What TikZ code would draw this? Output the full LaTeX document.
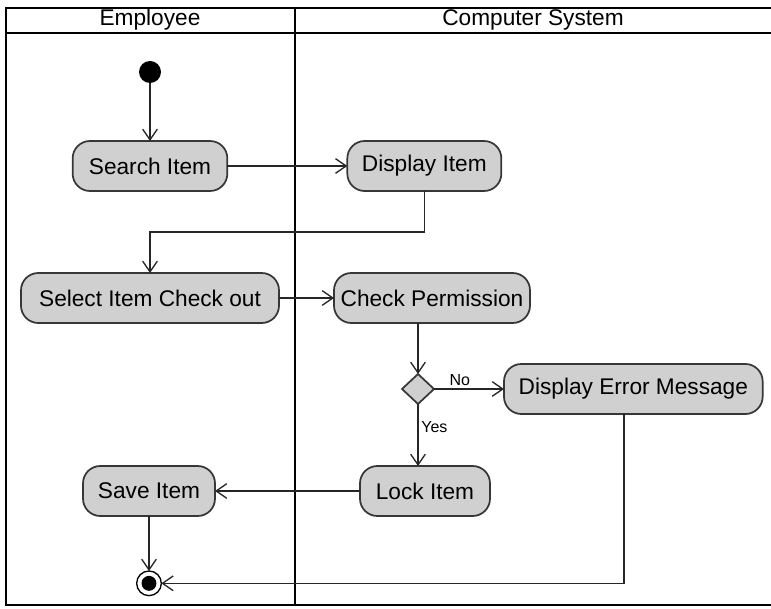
\documentclass[tikz,border=0pt]{standalone}
\usepackage{fontspec}
\setmainfont{Liberation Sans}
\usetikzlibrary{positioning, calc, shapes.geometric, arrows.meta}
\definecolor{actfill}{RGB}{208,208,208}
\definecolor{actline}{RGB}{55,55,55}

\begin{document}
\begin{tikzpicture}[
        x=0.75pt, y=-0.75pt,
        act/.style={rectangle, rounded corners=13pt, draw=actline, fill=actfill, line width=1.3pt, outer sep=0pt, minimum height=37.5pt, inner xsep=3pt, font=\fontsize{17}{20}\selectfont},
        decision/.style={diamond, draw=actline, fill=actfill, line width=1.3pt, outer sep=0pt, minimum width=24pt, minimum height=22.5pt, inner sep=0pt},
        initial/.style={circle, fill=black, outer sep=0pt, minimum size=16.5pt, inner sep=0pt},
        final/.style={circle, draw, line width=1pt, outer sep=0pt, minimum size=18.5pt, inner sep=0pt,
            path picture={\fill (path picture bounding box.center) circle (5.6pt);}},
        lane/.style={line width=1.7pt},
        title/.style={font=\fontsize{17}{20}\selectfont},
        arrow/.style={-{Straight Barb[length=8pt, width=11pt]}, line width=1pt, draw=black!85},
        guard/.style={font=\fontsize{12}{14}\selectfont, inner sep=2pt},
    ]
    \useasboundingbox (0,0) rectangle (771,609);

    % ===== Swimlanes =====
    \draw[lane] (771,8) -- (6,8) -- (6,605) -- (771,605);
    \draw[lane] (6,33) -- (771,33);
    \draw[lane] (295,8) -- (295,605);
    \node[title] (L1) at (150,20) {Employee};
    \node[title] (L2) at (533,20) {Computer System};

    % ===== Activities =====
    \node[initial] (start) at (150,72) {};
    \node[act, minimum width=116pt, below=43.5pt of start] (search) {Search Item};
    \node[act, minimum width=115.5pt, right=90pt of search] (display) {Display Item};
    \node[act, minimum width=193.5pt, below=61.5pt of search] (select) {Select Item Check out};
    \node[act, minimum width=147pt, right=41.25pt of select] (check) {Check Permission};
    \node[decision, below=38.25pt of check, xshift=-10.5pt] (dec) {};
    \node[act, minimum width=194pt, right=52.5pt of dec] (err) {Display Error Message};
    \node[act, minimum width=97.5pt, below=46.5pt of dec, xshift=5.25pt] (lock) {Lock Item};
    \node[act, minimum width=99pt, left=108.75pt of lock] (save) {Save Item};
    \node[final, below=41.25pt of save] (stop) {};

    % ===== Flows =====
    \draw[arrow] (start) -- (search);
    \draw[arrow] (search) -- (display);
    \draw[arrow] (display.south) |- ($(display.south)!0.5!(select.north)$) -| (select.north);
    \draw[arrow] (select) -- (check);
    \draw[arrow] (check.south -| dec.north) -- (dec.north);
    \draw[arrow] (dec.east) -- node[guard, above, pos=0.37] (no) {No} (err.west);
    \draw[arrow] (dec.south) -- node[guard, right, pos=0.37] (yes) {Yes} (dec.south |- lock.north);
    \draw[arrow] (lock) -- (save);
    \draw[arrow] (save) -- (stop);
    \draw[arrow] ([xshift=-7pt]err.south) |- (stop.east);

\end{tikzpicture}
\end{document}
